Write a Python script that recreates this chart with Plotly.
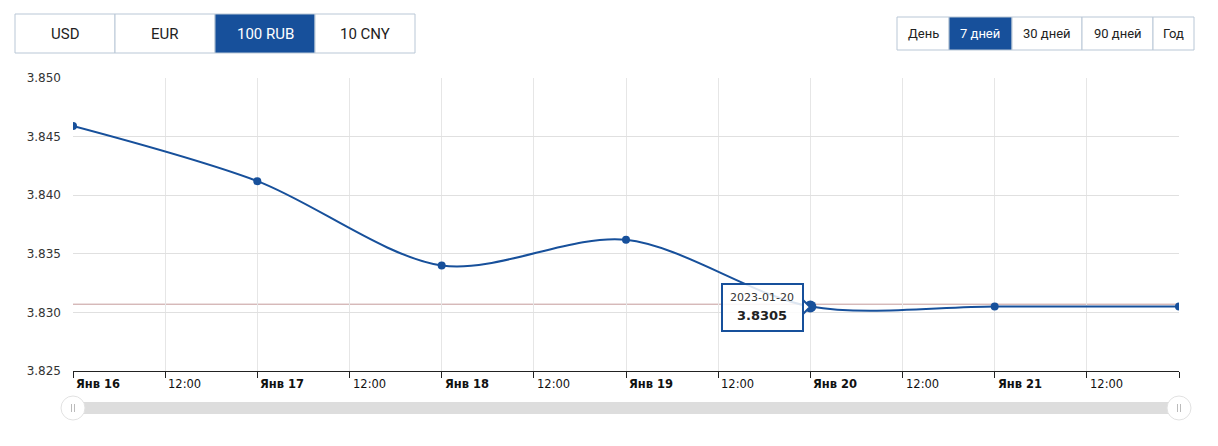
import plotly.graph_objects as go

# ---- data ----
dates = ["2023-01-16", "2023-01-17", "2023-01-18", "2023-01-19",
         "2023-01-20", "2023-01-21", "2023-01-22"]
rates = [3.8459, 3.8412, 3.8340, 3.8362, 3.8305, 3.8305, 3.8305]

tick_vals = ["2023-01-16 00:00", "2023-01-16 12:00", "2023-01-17 00:00", "2023-01-17 12:00",
             "2023-01-18 00:00", "2023-01-18 12:00", "2023-01-19 00:00", "2023-01-19 12:00",
             "2023-01-20 00:00", "2023-01-20 12:00", "2023-01-21 00:00", "2023-01-21 12:00",
             "2023-01-22 00:00"]
tick_text = ["<b>Янв 16</b>", "12:00", "<b>Янв 17</b>", "12:00", "<b>Янв 18</b>", "12:00",
             "<b>Янв 19</b>", "12:00", "<b>Янв 20</b>", "12:00", "<b>Янв 21</b>", "12:00", ""]
y_ticks = [3.825, 3.830, 3.835, 3.840, 3.845, 3.850]
y_labels = ["3.825", "3.830", "3.835", "3.840", "3.845", "3.850"]

currency_buttons = ["USD", "EUR", "100 RUB", "10 CNY"]
currency_active = "100 RUB"
period_buttons = ["День", "7 дней", "30 дней", "90 дней", "Год"]
period_active = "7 дней"

hover_index = 4

# ---- layout geometry (page pixels; body has an 8px margin) ----
OFF = 8
W, H = 1202, 430
L, R, T, B = 73, 1179, 78, 371   # page pixel coords of plot area
BLUE = "#17509b"
BORDER = "#b9c7d6"

def px(x):
    return (x - L) / (R - L)

def py(y):
    return (B - y) / (B - T)

fig = go.Figure()

fig.add_trace(go.Scatter(
    x=dates, y=rates, mode="lines+markers",
    line=dict(color=BLUE, width=2, shape="spline", smoothing=0.9),
    marker=dict(color=BLUE, size=8),
    hoverinfo="skip", showlegend=False,
))
fig.add_trace(go.Scatter(
    x=[dates[hover_index]], y=[rates[hover_index]], mode="markers",
    marker=dict(color=BLUE, size=12),
    hoverinfo="skip", showlegend=False,
))

shapes = []
annotations = []

# crosshair
cy = rates[hover_index] + 0.0002
shapes.append(dict(type="line", xref="paper", yref="y", x0=0, x1=1, y0=cy, y1=cy,
                   line=dict(color="#c49a9a", width=1), layer="below"))

# x tick labels (left-aligned at tick, as in the reference)
for tv, tt in zip(tick_vals, tick_text):
    if not tt:
        continue
    annotations.append(dict(xref="x", yref="paper", x=tv, y=py(384), text=tt, showarrow=False,
                            xanchor="left", yanchor="middle", xshift=1,
                            font=dict(family="DejaVu Sans", size=11.5, color="#111")))

# tooltip box
tb = dict(x0=722, x1=803, y0=284, y1=331)
shapes.append(dict(type="rect", xref="paper", yref="paper",
                   x0=px(tb["x0"]), x1=px(tb["x1"]), y0=py(tb["y1"]), y1=py(tb["y0"]),
                   fillcolor="rgba(255,255,255,0.85)", line=dict(color=BLUE, width=2)))
shapes.append(dict(type="path", xref="paper", yref="paper",
                   path=f"M {px(803)} {py(300)} L {px(810)} {py(307)} L {px(803)} {py(314)} Z",
                   fillcolor="white", line=dict(color=BLUE, width=2)))
annotations.append(dict(xref="paper", yref="paper", x=px(762), y=py(297), showarrow=False,
                        text=dates[hover_index], font=dict(family="DejaVu Sans", size=11, color="#333"),
                        xanchor="center", yanchor="middle"))
annotations.append(dict(xref="paper", yref="paper", x=px(762), y=py(315), showarrow=False,
                        text=f"<b>{rates[hover_index]:.4f}</b>",
                        font=dict(family="DejaVu Sans", size=13, color="#222"),
                        xanchor="center", yanchor="middle"))

# currency buttons
cx0, cw, cy0, cy1 = 15, 100, 14, 53
for i, lab in enumerate(currency_buttons):
    x0 = cx0 + i * cw
    x1 = x0 + cw
    active = lab == currency_active
    shapes.append(dict(type="rect", xref="paper", yref="paper",
                       x0=px(x0), x1=px(x1), y0=py(cy1), y1=py(cy0),
                       fillcolor=BLUE if active else "white",
                       line=dict(color=BORDER, width=1)))
    annotations.append(dict(xref="paper", yref="paper", x=px((x0 + x1) / 2), y=py((cy0 + cy1) / 2),
                            text=lab, showarrow=False, xanchor="center", yanchor="middle",
                            font=dict(family="Roboto", size=15, color="white" if active else "#222")))

# period buttons
pedges = [897, 949, 1012, 1082, 1153, 1194]
pb0, pb1 = 17, 50
for i, lab in enumerate(period_buttons):
    x0, x1 = pedges[i], pedges[i + 1]
    active = lab == period_active
    shapes.append(dict(type="rect", xref="paper", yref="paper",
                       x0=px(x0), x1=px(x1), y0=py(pb1), y1=py(pb0),
                       fillcolor=BLUE if active else "white",
                       line=dict(color=BORDER, width=1)))
    annotations.append(dict(xref="paper", yref="paper", x=px((x0 + x1) / 2), y=py((pb0 + pb1) / 2),
                            text=lab, showarrow=False, xanchor="center", yanchor="middle",
                            font=dict(family="Roboto", size=13, color="white" if active else "#222")))

# slider
shapes.append(dict(type="rect", xref="paper", yref="paper",
                   x0=0, x1=1, y0=py(414), y1=py(402),
                   fillcolor="#dddddd", line=dict(width=0)))
for hx in (L, R):
    shapes.append(dict(type="circle", xref="paper", yref="paper",
                       x0=px(hx - 12), x1=px(hx + 12), y0=py(420), y1=py(396),
                       fillcolor="white", line=dict(color="#e2e2e2", width=1)))
    for dx in (-1.5, 1.5):
        shapes.append(dict(type="line", xref="paper", yref="paper",
                           x0=px(hx + dx), x1=px(hx + dx), y0=py(412), y1=py(404),
                           line=dict(color="#bbbbbb", width=1)))

fig.update_layout(
    width=W, height=H,
    margin=dict(l=L - OFF, r=W - (R - OFF), t=T - OFF, b=H - (B - OFF), pad=0),
    paper_bgcolor="white", plot_bgcolor="white",
    shapes=shapes, annotations=annotations,
    xaxis=dict(range=["2023-01-16 00:00", "2023-01-22 00:00"], tickmode="array",
               tickvals=tick_vals, showticklabels=False,
               showgrid=True, gridcolor="#e6e6e6", gridwidth=1,
               showline=True, linecolor="#222", linewidth=1,
               ticks="outside", ticklen=6, tickcolor="#222",
               zeroline=False, fixedrange=True),
    yaxis=dict(range=[3.825, 3.850], tickmode="array", tickvals=y_ticks, ticktext=y_labels,
               showgrid=True, gridcolor="#e0e0e0", gridwidth=1, zeroline=False,
               showline=False, ticks="", ticklabelstandoff=11,
               tickfont=dict(family="DejaVu Sans", size=12, color="#333"), fixedrange=True),
    font=dict(family="DejaVu Sans"),
)

fig.write_html("out.html")
